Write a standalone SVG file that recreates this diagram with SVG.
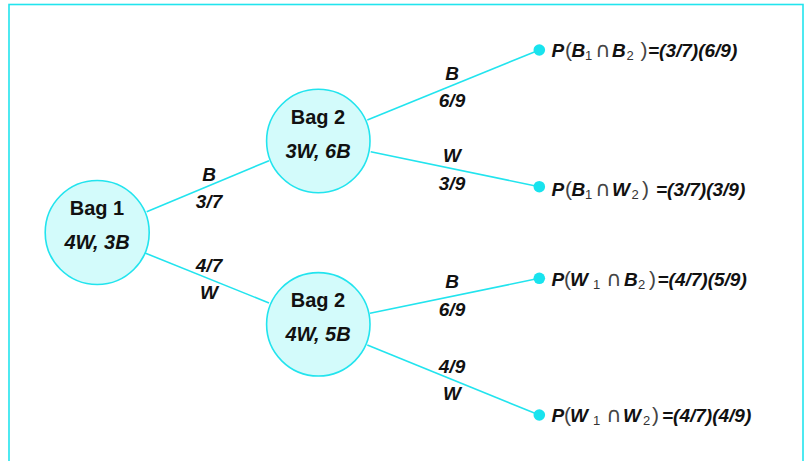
<svg xmlns="http://www.w3.org/2000/svg" width="806" height="461" viewBox="0 0 806 461">
<style>
.frame{fill:none;stroke:#22E4EE;stroke-width:1.6}
.node{fill:#D3FBFB;stroke:#22E4EE;stroke-width:1.6}
.edge{stroke:#22E4EE;stroke-width:1.6;fill:none}
.dot{fill:#18E3EE}
.t{font-family:"Liberation Sans",Arial,sans-serif;font-weight:bold;font-size:20px;fill:#111;text-anchor:middle}
.i{font-style:italic}
.lab{font-family:"Liberation Sans",Arial,sans-serif;font-weight:bold;font-style:italic;font-size:19px;fill:#111;text-anchor:middle}
.p{font-family:"Liberation Sans",Arial,sans-serif;font-size:19px;fill:#111}
.bi{font-weight:bold;font-style:italic}
.r{font-family:"DejaVu Sans",sans-serif;font-weight:normal;font-style:normal;fill:#444;font-size:21px}
.par{font-weight:normal;font-style:normal;fill:#444;font-size:21px}
.sub{font-weight:normal;font-style:normal;fill:#333;font-size:13px}
</style>
<rect class="frame" x="9" y="4.5" width="794" height="520"/>
<g id="connectors">
<line class="edge" x1="146.7" y1="211.7" x2="269" y2="160.7"/>
<line class="edge" x1="145" y1="253" x2="269" y2="303"/>
<line class="edge" x1="367.3" y1="120" x2="539.3" y2="50"/>
<line class="edge" x1="370.7" y1="151.7" x2="539.3" y2="186.7"/>
<line class="edge" x1="370" y1="313.3" x2="539.3" y2="278.3"/>
<line class="edge" x1="367.3" y1="345" x2="539.3" y2="415"/>
<text class="lab" x="209" y="181">B</text>
<text class="lab" x="209" y="208">3/7</text>
<text class="lab" x="209" y="272">4/7</text>
<text class="lab" x="209" y="299">W</text>
<text class="lab" x="452" y="80">B</text>
<text class="lab" x="452" y="107">6/9</text>
<text class="lab" x="452" y="162">W</text>
<text class="lab" x="452" y="190">3/9</text>
<text class="lab" x="452" y="288">B</text>
<text class="lab" x="452" y="316">6/9</text>
<text class="lab" x="452" y="373">4/9</text>
<text class="lab" x="452" y="400">W</text>
</g>
<g id="bag1">
<circle class="node" cx="97.2" cy="232.5" r="52"/>
<text class="t" x="97" y="215">Bag 1</text>
<text class="t i" x="97" y="249">4W, 3B</text>
</g>
<g id="bag2-upper">
<circle class="node" cx="318.3" cy="141" r="51.7"/>
<text class="t" x="318" y="123.5">Bag 2</text>
<text class="t i" x="318" y="158">3W, 6B</text>
</g>
<g id="bag2-lower">
<circle class="node" cx="318.3" cy="324.3" r="51.7"/>
<text class="t" x="318" y="306.5">Bag 2</text>
<text class="t i" x="318" y="340.5">4W, 5B</text>
</g>
<g id="outcome-bb">
<circle class="dot" cx="539.3" cy="50" r="5.8"/>
<text class="p" y="57"><tspan class="bi" x="551.5">P</tspan><tspan class="par" x="565">(</tspan><tspan class="bi" x="571.5">B</tspan><tspan class="sub" x="585" dy="3">1</tspan><tspan class="r" x="595" dy="-3">∩</tspan><tspan class="bi" x="612">B</tspan><tspan class="sub" x="626.5" dy="3">2</tspan><tspan class="par" x="640.5" dy="-3">)</tspan><tspan class="bi" x="648">=(3/7)(6/9)</tspan></text>
</g>
<g id="outcome-bw">
<circle class="dot" cx="539.3" cy="186.7" r="5.8"/>
<text class="p" y="196"><tspan class="bi" x="551.5">P</tspan><tspan class="par" x="565">(</tspan><tspan class="bi" x="571.5">B</tspan><tspan class="sub" x="585" dy="3">1</tspan><tspan class="r" x="595" dy="-3">∩</tspan><tspan class="bi" x="612">W</tspan><tspan class="sub" x="631.5" dy="3">2</tspan><tspan class="par" x="642" dy="-3">)</tspan><tspan class="bi" x="656">=(3/7)(3/9)</tspan></text>
</g>
<g id="outcome-wb">
<circle class="dot" cx="539.3" cy="278.3" r="5.8"/>
<text class="p" y="286"><tspan class="bi" x="551.5">P</tspan><tspan class="par" x="564">(</tspan><tspan class="bi" x="570">W</tspan><tspan class="sub" x="593" dy="3">1</tspan><tspan class="r" x="606" dy="-3">∩</tspan><tspan class="bi" x="624">B</tspan><tspan class="sub" x="638" dy="3">2</tspan><tspan class="par" x="649" dy="-3">)</tspan><tspan class="bi" x="657.5">=(4/7)(5/9)</tspan></text>
</g>
<g id="outcome-ww">
<circle class="dot" cx="539.3" cy="415" r="5.8"/>
<text class="p" y="421.5"><tspan class="bi" x="551.5">P</tspan><tspan class="par" x="564">(</tspan><tspan class="bi" x="570">W</tspan><tspan class="sub" x="593" dy="3">1</tspan><tspan class="r" x="606" dy="-3">∩</tspan><tspan class="bi" x="623">W</tspan><tspan class="sub" x="643" dy="3">2</tspan><tspan class="par" x="652" dy="-3">)</tspan><tspan class="bi" x="662">=(4/7)(4/9)</tspan></text>
</g>
</svg>
